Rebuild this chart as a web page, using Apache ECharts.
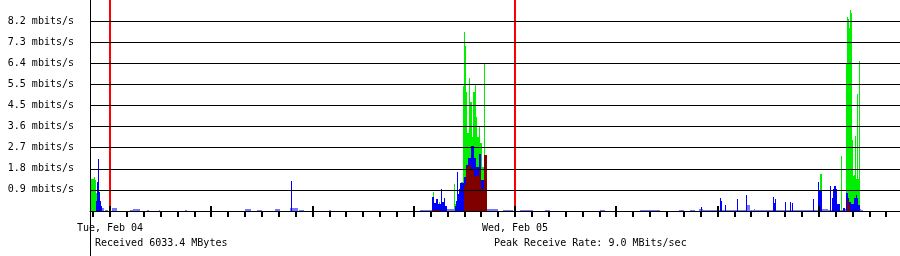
<!DOCTYPE html>
<html><head><meta charset="utf-8">
<script src="https://cdn.jsdelivr.net/npm/echarts@6/dist/echarts.min.js"></script>
<style>html,body{margin:0;padding:0;background:#fff}#c{width:900px;height:256px}</style>
</head><body><div id="c"></div>
<script>
// x = hours since Tue, Feb 04 00:00
const xMin = -1.185;
const xMax = 46.815;
const hourTicks = [-1,0,1,2,3,4,5,6,7,8,9,10,11,12,13,14,15,16,17,18,19,20,21,22,23,24,25,26,27,28,29,30,31,32,33,34,35,36,37,38,39,40,41,42,43,44,45,46];
const sixHourMarks = [0,6,12,18,24,30,36,42];
const dayLines = [0,24];
const dayLabels = {0:'Tue, Feb 04', 24:'Wed, Feb 05'};
const yStep = 0.91;
const yMax = 9.1;
const yLabels = ['','0.9','1.8','2.7','3.6','4.5','5.5','6.4','7.3','8.2',''];
const unit = ' mbits/s';
const footLeft = 'Received 6033.4 MBytes';
const footRight = 'Peak Receive Rate: 9.0 MBits/sec';

// bins: [startHour, endHour, mbits/s]
const greenBins = [
 [-1.15,-0.97,1.40],[-0.97,-0.89,1.48],[-0.89,-0.83,1.35],[-0.83,-0.75,0.78],
 [19.13,19.19,0.8],[19.50,19.56,0.38],[20.03,20.21,0.1],[20.36,20.42,1.16],[20.42,20.50,0.3],[20.80,20.89,1.27],
 [20.89,20.95,5.4],[20.95,21.00,7.7],[21.00,21.07,7.1],[21.07,21.16,5.15],[21.16,21.29,3.36],[21.29,21.36,5.72],
 [21.36,21.46,4.71],[21.46,21.52,3.2],[21.52,21.61,5.15],[21.61,21.69,5.43],[21.69,21.76,4.07],[21.76,21.85,3.2],
 [21.85,21.93,3.64],[21.93,22.04,2.93],[22.04,22.18,1.9],[22.18,22.24,6.37],[22.24,22.34,2.4],
 [42.05,42.19,1.6],[43.31,43.37,2.37],
 [43.61,43.67,6.35],[43.67,43.73,8.35],[43.73,43.79,8.3],[43.79,43.85,7.9],[43.85,43.91,8.65],[43.91,43.97,8.55],
 [43.97,44.03,3.06],[44.03,44.09,1.5],[44.09,44.15,1.55],[44.15,44.21,3.23],[44.21,44.27,1.4],[44.27,44.33,5.03],
 [44.33,44.39,1.4],[44.39,44.44,6.47]
];
const lavenderBins = [
 [-0.53,-0.36,0.12],[-0.30,-0.12,0.05],[0.14,0.40,0.11],[1.19,1.36,0.05],[1.36,1.78,0.07],[2.22,2.34,0.06],
 [2.90,2.96,0.05],[4.44,4.56,0.04],[8.00,8.36,0.07],[8.71,9.00,0.05],[9.78,10.07,0.1],[10.67,11.14,0.12],
 [11.2,11.5,0.06],[13.0,13.12,0.04],[18.37,19.14,0.05],[19.14,20.89,0.1],[22.34,23.0,0.08],[23.3,23.9,0.04],
 [24.30,25.07,0.04],[25.78,26.07,0.04],[29.04,29.33,0.04],[31.41,32.59,0.04],[33.7,34.0,0.04],[34.37,34.67,0.05],
 [34.9,44.6,0.04],[34.9,35.14,0.09],[37.69,37.93,0.26],[38.14,38.2,0.1],[42.19,42.55,0.09],[43.56,44.5,0.1]
];
const blueBins = [
 [-0.83,-0.75,0.45],[-0.75,-0.71,1.25],[-0.71,-0.65,2.25],[-0.65,-0.59,0.8],[-0.59,-0.53,0.45],[-0.53,-0.47,0.2],
 [10.74,10.80,1.29],
 [19.08,19.20,0.6],[19.20,19.32,0.35],[19.32,19.44,0.5],[19.44,19.59,0.3],[19.59,19.65,0.95],[19.65,19.77,0.4],
 [19.77,19.83,0.55],[19.83,19.95,0.2],
 [20.47,20.53,0.2],[20.53,20.59,0.45],[20.59,20.65,1.67],[20.65,20.71,0.75],[20.71,20.77,0.95],[20.77,20.89,1.2],
 [20.89,21.00,1.2],[21.00,21.10,1.45],[21.10,21.21,2.0],[21.21,21.39,2.3],[21.39,21.57,2.8],[21.57,21.69,2.3],
 [21.69,21.84,1.9],[21.84,21.99,2.45],[21.99,22.16,1.35],[22.16,22.34,1.7],
 [35.00,35.06,0.17],[36.12,36.18,0.55],[36.18,36.27,0.45],[36.42,36.48,0.26],[37.14,37.20,0.5],[37.68,37.74,0.69],
 [39.29,39.35,0.59],[39.35,39.41,0.35],[39.41,39.47,0.52],[40.00,40.06,0.4],[40.28,40.34,0.4],[40.40,40.46,0.36],
 [41.65,41.71,0.5],[41.96,42.04,1.24],[42.04,42.19,0.9],[42.64,42.70,1.08],[42.78,42.84,0.55],[42.84,42.93,0.97],
 [42.93,43.02,1.08],[43.02,43.11,0.95],[43.11,43.28,0.3],[43.44,43.56,0.15],
 [43.61,43.73,0.79],[43.73,43.79,0.55],[43.79,43.91,0.4],[43.91,44.09,0.3],[44.09,44.21,0.57],[44.21,44.27,0.69],
 [44.27,44.33,0.57],[44.33,44.44,0.25]
];
const maroonBins = [
 [19.14,19.56,0.06],
 [20.95,21.07,1.1],[21.07,21.21,1.9],[21.21,21.39,2.0],[21.39,21.57,1.75],[21.57,21.84,1.5],[21.84,21.99,1.75],
 [21.99,22.19,0.95],[22.19,22.34,2.4],
 [43.67,43.79,0.47],[43.79,43.85,0.25]
];

const FONT = '"DejaVu Sans Mono", "Liberation Mono", monospace';

function makeRender(color) {
  return function (params, api) {
    const a = api.coord([api.value(0), api.value(2)]);
    const b = api.coord([api.value(1), 0]);
    const x0 = Math.round(a[0]);
    const x1 = Math.max(Math.round(b[0]), x0 + 1);
    const y0 = Math.round(a[1]);
    const y1 = Math.round(b[1]);
    return {type: 'rect', shape: {x: x0, y: y0, width: x1 - x0, height: y1 - y0}, style: {fill: color}};
  };
}
function binSeries(name, data, color, z) {
  return {name, type: 'custom', data, z, encode: {x: [0, 1], y: 2}, renderItem: makeRender(color), silent: true, animation: false};
}

const chart = echarts.init(document.getElementById('c'), null, {renderer: 'canvas'});
chart.setOption({
  animation: false,
  backgroundColor: '#ffffff',
  grid: {left: 90, right: 0, top: 0, height: 211, containLabel: false},
  xAxis: [{
    type: 'value', min: xMin, max: xMax, z: 10,
    axisLine: {show: true, onZero: false, lineStyle: {color: '#000', width: 1}},
    axisTick: {show: true, customValues: hourTicks, length: 6, lineStyle: {color: '#000', width: 2}},
    axisLabel: {show: true, customValues: dayLines, margin: 12, color: '#000', fontFamily: FONT, fontSize: 10,
      formatter: v => dayLabels[Math.round(v)] || ''},
    splitLine: {show: false}
  }, {
    type: 'value', min: xMin, max: xMax, position: 'bottom', z: 11,
    axisLine: {show: false, onZero: false},
    axisTick: {show: true, inside: true, customValues: sixHourMarks, length: 5, lineStyle: {color: '#000', width: 2}},
    axisLabel: {show: false},
    splitLine: {show: false}
  }],
  yAxis: {
    type: 'value', min: 0, max: yMax, interval: yStep, z: 10,
    axisLine: {show: true, onZero: false, lineStyle: {color: '#000', width: 1}},
    axisTick: {show: false},
    axisLabel: {margin: 16, color: '#000', fontFamily: FONT, fontSize: 10, showMinLabel: false, showMaxLabel: false,
      formatter: v => { const s = yLabels[Math.round(v / yStep)]; return s ? s + unit : ''; }},
    splitLine: {show: true, showMinLine: false, showMaxLine: false, lineStyle: {color: '#000', width: 1}}
  },
  series: [
    binSeries('green', greenBins, '#00ee00', 2),
    binSeries('lavender', lavenderBins, '#7777ff', 3),
    binSeries('blue', blueBins, '#0000ff', 4),
    binSeries('maroon', maroonBins, '#800000', 5),
    {type: 'line', data: [], z: 6, silent: true,
     markLine: {silent: true, symbol: ['none', 'none'], label: {show: false}, animation: false,
       lineStyle: {color: '#ff0000', width: 2, type: 'solid'},
       data: dayLines.map(d => ({xAxis: d}))}}
  ],
  graphic: [
    {type: 'line', shape: {x1: 90.5, y1: 211, x2: 90.5, y2: 256}, style: {stroke: '#000', lineWidth: 1}},
    {type: 'text', x: 95, y: 243, style: {text: footLeft, font: '10px ' + FONT, fill: '#000', verticalAlign: 'middle'}},
    {type: 'text', x: 494, y: 243, style: {text: footRight, font: '10px ' + FONT, fill: '#000', verticalAlign: 'middle'}}
  ]
});
</script></body></html>
